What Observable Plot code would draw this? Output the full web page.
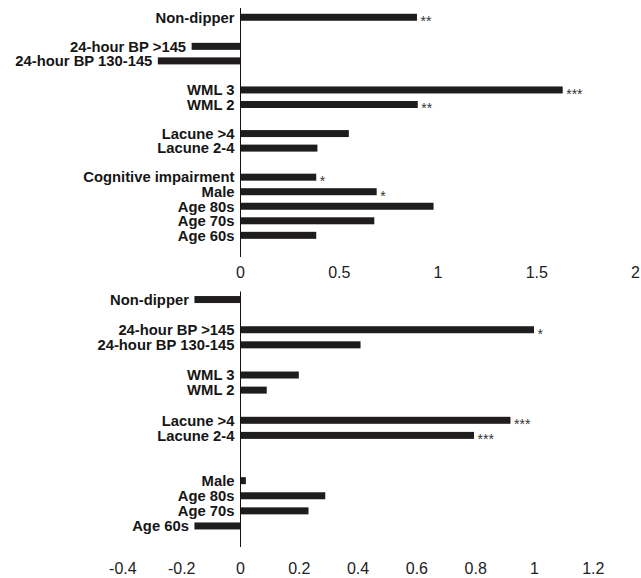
<!DOCTYPE html>
<html><head><meta charset="utf-8">
<script src="https://cdn.jsdelivr.net/npm/d3@7"></script>
<script src="https://cdn.jsdelivr.net/npm/@observablehq/plot@0.6"></script>
<style>
body{margin:0;background:#fff;}
#chart{width:641px;}
#chart svg{display:block;}
</style></head><body><div id="chart"></div>
<script>
// ---- Top panel data ----
const categoriesTop = ["Non-dipper","24-hour BP >145","24-hour BP 130-145","WML 3","WML 2","Lacune >4","Lacune 2-4","Cognitive impairment","Male","Age 80s","Age 70s","Age 60s"];
const valuesTop = [0.896,-0.245,-0.416,1.634,0.90,0.551,0.392,0.386,0.692,0.98,0.68,0.386];
const starsTop = ["**","","","***","**","","","*","*","","",""];
const ticksTop = [0,0.5,1,1.5,2];

// ---- Bottom panel data ----
const categoriesBottom = ["Non-dipper","24-hour BP >145","24-hour BP 130-145","WML 3","WML 2","Lacune >4","Lacune 2-4","Male","Age 80s","Age 70s","Age 60s"];
const valuesBottom = [-0.155,1.0,0.41,0.20,0.091,0.92,0.796,0.02,0.29,0.233,-0.155];
const starsBottom = ["","*","","","","***","***","","","",""];
const ticksBottom = [-0.4,-0.2,0,0.2,0.4,0.6,0.8,1,1.2];

// row order, "_g" entries are spacer rows
const slotsTop = ["Non-dipper","_g1","24-hour BP >145","24-hour BP 130-145","_g2","WML 3","WML 2","_g3","Lacune >4","Lacune 2-4","_g4","Cognitive impairment","Male","Age 80s","Age 70s","Age 60s"];
const slotsBottom = ["Non-dipper","_g1","24-hour BP >145","24-hour BP 130-145","_g2","WML 3","WML 2","_g3","Lacune >4","Lacune 2-4","_g4","_g5","Male","Age 80s","Age 70s","Age 60s"];

const FONT = "'Liberation Sans', Arial, Helvetica, sans-serif";

function panel(cats, vals, stars, slots, opts) {
  const data = cats.map((c, i) => ({cat: c, value: vals[i], star: stars[i]}));
  const step = (opts.height - opts.marginTop - opts.marginBottom - opts.insetTop - opts.insetBottom) / slots.length;
  const barInset = (step - 7) / 2;
  return Plot.plot({
    width: 641,
    height: opts.height,
    marginLeft: 0, marginRight: 0,
    marginTop: opts.marginTop, marginBottom: opts.marginBottom,
    style: {fontFamily: FONT, background: "#fff", overflow: "visible"},
    x: {domain: opts.domain},
    y: {domain: slots, padding: 0, round: false, insetTop: opts.insetTop, insetBottom: opts.insetBottom, axis: null},
    marks: [
      Plot.barX(data, {x: "value", y: "cat", fill: "#1f1c1d", insetTop: barInset, insetBottom: barInset}),
      Plot.ruleX([0], {stroke: "#111", strokeWidth: 1}),
      Plot.text(data, {x: d => Math.min(0, d.value), y: "cat", text: "cat", textAnchor: "end", dx: -6,
        fontWeight: "bold", fontSize: 14.8, fill: "#161616"}),
      Plot.text(data.filter(d => d.star), {x: "value", y: "cat", text: "star", textAnchor: "start",
        dx: 3, dy: 4, fontSize: 14, fill: "#333"}),
      Plot.axisX({ticks: opts.ticks, tickSize: 0, tickPadding: opts.tickPadding, fontSize: 16,
        tickFormat: d => String(d), fill: "#222", label: null})
    ]
  });
}

const chart = document.getElementById("chart");
chart.append(panel(categoriesTop, valuesTop, starsTop, slotsTop, {
  height: 288, marginTop: 8, marginBottom: 31, insetTop: 2, insetBottom: 14.4,
  domain: [-240 / 197.5, 401 / 197.5], ticks: ticksTop, tickPadding: 9
}));
chart.append(panel(categoriesBottom, valuesBottom, starsBottom, slotsBottom, {
  height: 290, marginTop: 3.5, marginBottom: 31, insetTop: 0.5, insetBottom: 13.5,
  domain: [-240 / 294, 401 / 294], ticks: ticksBottom, tickPadding: 15
}));
</script></body></html>
